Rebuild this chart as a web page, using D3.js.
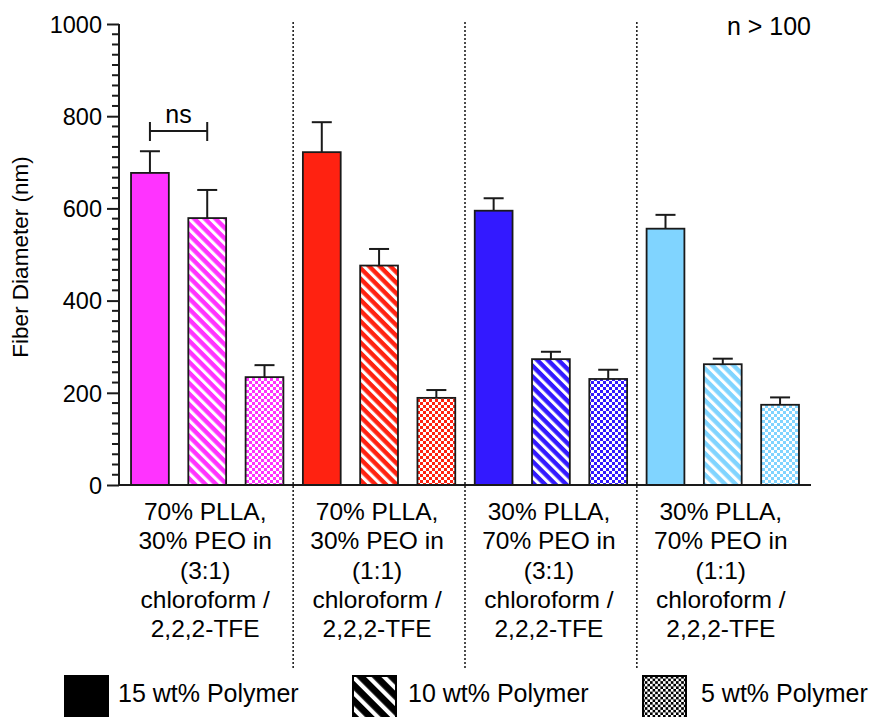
<!DOCTYPE html>
<html><head><meta charset="utf-8">
<script src="https://cdn.jsdelivr.net/npm/d3@7"></script>
<style>
html,body{margin:0;padding:0;background:#fff;}
svg{display:block;font-family:"Liberation Sans",Arial,sans-serif;}
</style></head>
<body>
<svg id="chart" width="874" height="717"></svg>
<script>
// ---- data ----
const groups = ["g1","g2","g3","g4"];
const groupLabels = [
  ["70% PLLA,","30% PEO in","(3:1)","chloroform /","2,2,2-TFE"],
  ["70% PLLA,","30% PEO in","(1:1)","chloroform /","2,2,2-TFE"],
  ["30% PLLA,","70% PEO in","(3:1)","chloroform /","2,2,2-TFE"],
  ["30% PLLA,","70% PEO in","(1:1)","chloroform /","2,2,2-TFE"]
];
const groupColors = ["#ff33ff","#ff2211","#3319ff","#80d4ff"];
const seriesNames = ["15 wt% Polymer","10 wt% Polymer","5 wt% Polymer"];
const seriesFill = ["solid","hatch","check"];
const means15 = [677, 722, 595, 556];
const errs15  = [724, 787, 622, 586];
const means10 = [579, 476, 273, 262];
const errs10  = [640, 512, 289, 274];
const means5  = [234, 189, 230, 174];
const errs5   = [260, 206, 250, 190];
const yTicks = [0, 200, 400, 600, 800, 1000];

const means = [means15, means10, means5];
const errs = [errs15, errs10, errs5];
const bars = [];
groups.forEach((g, gi) => {
  for (let s = 0; s < 3; s++) {
    bars.push({key: g + "_" + s, group: gi, series: s, mean: means[s][gi], err: errs[s][gi]});
  }
});

// ---- layout ----
const svg = d3.select("#chart");
const x0 = 119, x1 = 811, yTop = 24, yBot = 485;
const x = d3.scaleBand().domain(bars.map(d => d.key)).range([x0, x1]).paddingInner(0.34).paddingOuter(0.21);
const y = d3.scaleLinear().domain([0, 1000]).range([yBot, yTop]);

// patterns
const defs = svg.append("defs");
function makePatterns(id, color, per, wid, cell) {
  const h = defs.append("pattern").attr("id", "hatch-" + id).attr("patternUnits", "userSpaceOnUse")
    .attr("width", per).attr("height", per).attr("patternTransform", "rotate(-45)");
  h.append("rect").attr("width", per).attr("height", per).attr("fill", color);
  h.append("rect").attr("x", 0).attr("width", wid).attr("height", per).attr("fill", "#fff");
  const c = defs.append("pattern").attr("id", "check-" + id).attr("patternUnits", "userSpaceOnUse")
    .attr("width", 2*cell).attr("height", 2*cell);
  c.append("rect").attr("width", 2*cell).attr("height", 2*cell).attr("fill", "#fff");
  c.append("rect").attr("x", 0).attr("y", 0).attr("width", cell).attr("height", cell).attr("fill", color);
  c.append("rect").attr("x", cell).attr("y", cell).attr("width", cell).attr("height", cell).attr("fill", color);
}
groupColors.forEach((c, i) => makePatterns("c" + i, c, 7.5, 3.1, 3));
makePatterns("legend", "#000", 11, 4.2, 2.6);

function fillFor(series, id, color) {
  if (seriesFill[series] === "solid") return color;
  return "url(#" + seriesFill[series] + "-" + id + ")";
}

// separators
const sepX = [1, 2, 3].map(gi => (x(groups[gi-1] + "_2") + x.bandwidth() + x(groups[gi] + "_0")) / 2);
svg.selectAll("line.sep").data(sepX).join("line").attr("class", "sep")
  .attr("x1", d => d).attr("x2", d => d).attr("y1", 22).attr("y2", 668)
  .attr("stroke", "#000").attr("stroke-width", 1.4).attr("stroke-dasharray", "2,2");

// error bars
const capW = 20;
const eb = svg.selectAll("g.err").data(bars).join("g").attr("class", "err");
eb.append("line").attr("x1", d => x(d.key) + x.bandwidth()/2).attr("x2", d => x(d.key) + x.bandwidth()/2)
  .attr("y1", d => y(d.mean)).attr("y2", d => y(d.err)).attr("stroke", "#1a1a1a").attr("stroke-width", 2);
eb.append("line").attr("x1", d => x(d.key) + x.bandwidth()/2 - capW/2).attr("x2", d => x(d.key) + x.bandwidth()/2 + capW/2)
  .attr("y1", d => y(d.err)).attr("y2", d => y(d.err)).attr("stroke", "#1a1a1a").attr("stroke-width", 2);

// bars
svg.selectAll("rect.bar").data(bars).join("rect").attr("class", "bar")
  .attr("x", d => x(d.key)).attr("width", x.bandwidth())
  .attr("y", d => y(d.mean)).attr("height", d => y(0) - y(d.mean))
  .attr("fill", d => fillFor(d.series, "c" + d.group, groupColors[d.group]))
  .attr("stroke", "#1a1a1a").attr("stroke-width", 1.8);

// x axis line
svg.append("line").attr("x1", x0).attr("x2", x1).attr("y1", yBot).attr("y2", yBot)
  .attr("stroke", "#1a1a1a").attr("stroke-width", 2);

// y axis
const yAxis = d3.axisLeft(y).tickValues(yTicks).tickSize(12).tickPadding(5).tickFormat(d3.format("d"));
const ya = svg.append("g").attr("transform", `translate(${x0},0)`).call(yAxis);
ya.select(".domain").attr("stroke", "#1a1a1a").attr("stroke-width", 2).attr("d", `M0,${yTop}V${yBot}`);
ya.selectAll(".tick line").attr("stroke", "#1a1a1a").attr("stroke-width", 2);
ya.selectAll(".tick text").attr("font-size", 23.5).attr("fill", "#000").attr("font-family", "Liberation Sans, Arial, sans-serif").attr("dy", "0.35em");
const minor = [];
for (let i = 0; i < yTicks.length - 1; i++) {
  const step = (yTicks[i+1] - yTicks[i]) / 9;
  for (let k = 1; k < 9; k++) minor.push(yTicks[i] + k * step);
}
svg.selectAll("line.minor").data(minor).join("line").attr("class", "minor")
  .attr("x1", x0 - 7).attr("x2", x0).attr("y1", d => y(d)).attr("y2", d => y(d))
  .attr("stroke", "#1a1a1a").attr("stroke-width", 2);

// y title
svg.append("text").attr("transform", `translate(28,257) rotate(-90)`).attr("text-anchor", "middle")
  .attr("font-size", 22.5).attr("fill", "#000").text("Fiber Diameter (nm)");

// group labels
groupLabels.forEach((lines, gi) => {
  const cx = x(groups[gi] + "_1") + x.bandwidth()/2 - 2;
  const t = svg.append("text").attr("text-anchor", "middle").attr("font-size", 24.5).attr("fill", "#000");
  lines.forEach((ln, li) => {
    t.append("tspan").attr("x", cx).attr("y", 520 + li * 29.3).text(ln);
  });
});

// ns bracket
const bx1 = x(groups[0] + "_0") + x.bandwidth()/2, bx2 = x(groups[0] + "_1") + x.bandwidth()/2;
svg.append("path").attr("d", `M${bx1},122V141M${bx1},131H${bx2}M${bx2},122V141`)
  .attr("fill", "none").attr("stroke", "#1a1a1a").attr("stroke-width", 2);
svg.append("text").attr("x", (bx1 + bx2)/2).attr("y", 123).attr("text-anchor", "middle")
  .attr("font-size", 25).attr("fill", "#000").text("ns");

// n > 100
svg.append("text").attr("x", 811).attr("y", 35).attr("text-anchor", "end")
  .attr("font-size", 25).attr("fill", "#000").text("n > 100");

// legend
const legX = [65, 353, 643];
const legTextX = [118, 408, 701];
seriesNames.forEach((name, i) => {
  svg.append("rect").attr("x", legX[i]).attr("y", 676).attr("width", 43).attr("height", 45)
    .attr("fill", fillFor(i, "legend", "#000")).attr("stroke", "#000").attr("stroke-width", 2);
  svg.append("text").attr("x", legTextX[i]).attr("y", 702).attr("font-size", 25).attr("fill", "#000").text(name);
});
</script>
</body></html>
